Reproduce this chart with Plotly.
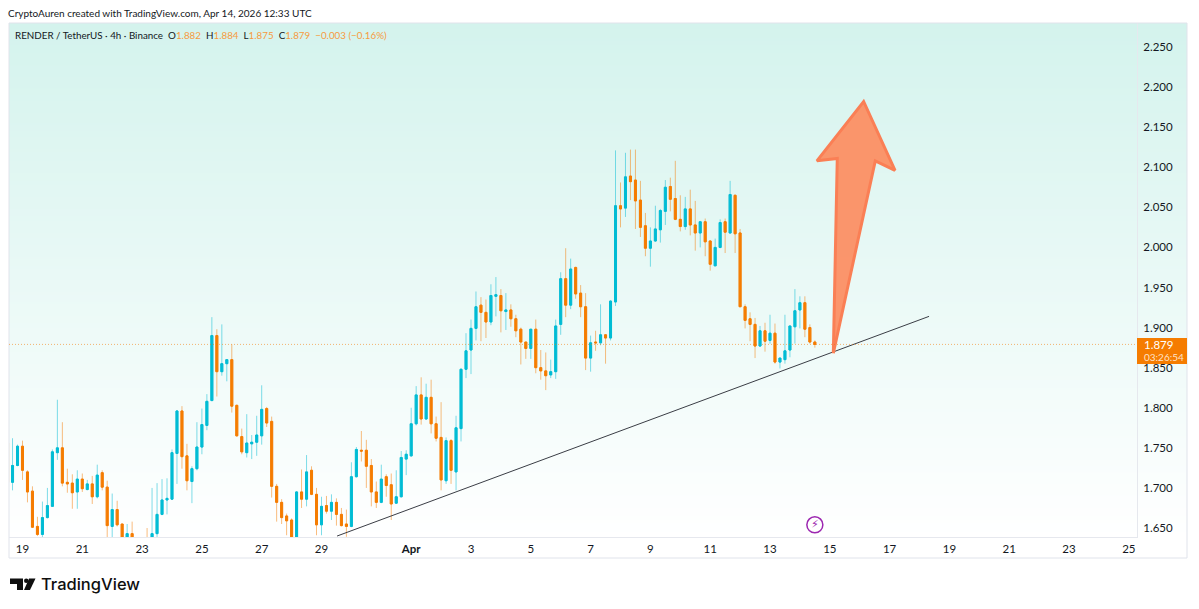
import pandas as pd
import plotly.graph_objects as go

# RENDER / USDT 4h candles
opens = [1.756,1.707,1.728,1.752,1.720,1.696,1.652,1.642,1.663,1.677,
         1.744,1.750,1.707,1.706,1.695,1.711,1.698,1.705,1.689,1.719,
         1.701,1.652,1.673,1.655,1.630,1.643,1.632,1.620,1.628,1.636,
         1.643,1.667,1.685,1.686,1.743,1.796,1.740,1.708,1.724,1.751,
         1.778,1.809,1.890,1.845,1.855,1.860,1.803,1.764,1.744,
         1.755,1.757,1.765,1.799,1.783,1.702,1.682,1.665,1.660,1.630,
         1.695,1.686,1.722,1.692,1.654,1.678,1.671,1.682,1.667,1.655,
         1.652,1.714,1.747,1.747,1.728,1.695,1.682,1.714,1.704,1.681,
         1.689,1.736,1.740,1.780,1.816,1.786,1.813,1.780,1.763,1.709,
         1.759,1.720,1.774,
         1.848,1.872,1.899,1.928,1.919,1.907,1.939,1.940,1.920,1.922,
         1.911,1.898,1.882,1.874,1.898,1.850,1.846,1.841,1.845,1.904,
         1.961,1.928,1.975,1.943,1.926,1.862,1.882,1.881,1.891,1.887,
         1.932,2.052,2.049,2.089,2.084,2.059,2.027,1.999,2.008,2.022,
         2.045,2.076,2.061,2.035,2.026,2.048,2.028,2.018,2.032,2.008,
         1.977,2.000,2.032,2.018,2.065,2.018,1.926,1.911,
         1.904,1.877,1.896,1.884,1.893,1.857,1.860,1.872,1.901,1.922,1.931,1.900,1.882]
highs = [1.776,1.762,1.754,1.759,1.722,1.702,1.664,1.683,1.700,1.748,
         1.810,1.782,1.724,1.717,1.722,1.718,1.710,1.715,1.729,1.722,
         1.709,1.693,1.684,1.655,1.655,1.658,1.636,1.637,1.650,1.700,
         1.706,1.711,1.712,1.748,1.797,1.802,1.755,1.727,1.782,1.799,
         1.817,1.913,1.898,1.904,1.860,1.879,1.804,1.774,1.792,
         1.766,1.790,1.828,1.801,1.789,1.705,1.686,1.668,1.662,1.696,
         1.723,1.741,1.727,1.700,1.689,1.690,1.692,1.687,1.675,1.673,
         1.732,1.751,1.771,1.760,1.736,1.708,1.729,1.717,1.718,1.722,
         1.746,1.747,1.800,1.827,1.838,1.830,1.835,1.789,1.807,1.763,
         1.761,1.790,1.849,
         1.893,1.910,1.945,1.938,1.935,1.954,1.963,1.948,1.943,1.929,
         1.916,1.900,1.882,1.898,1.910,1.872,1.869,1.860,1.910,1.969,
         1.999,1.986,1.976,1.953,1.943,1.890,1.896,1.929,1.892,1.934,
         2.121,2.081,2.118,2.122,2.122,2.083,2.043,2.025,2.052,2.048,
         2.084,2.087,2.108,2.065,2.063,2.072,2.058,2.033,2.036,2.009,
         2.011,2.035,2.036,2.083,2.066,2.023,1.929,1.919,
         1.912,1.902,1.906,1.916,1.905,1.862,1.916,1.902,1.948,1.939,1.939,1.904,1.884]
lows = [1.705,1.697,1.727,1.710,1.682,1.650,1.640,1.635,1.662,1.677,
        1.735,1.702,1.694,1.674,1.674,1.695,1.697,1.680,1.687,1.697,
        1.637,1.637,1.652,1.625,1.622,1.625,1.618,1.612,1.615,1.630,
        1.638,1.666,1.667,1.685,1.705,1.724,1.697,1.681,1.722,1.742,
        1.772,1.808,1.814,1.840,1.833,1.794,1.764,1.742,1.738,
        1.736,1.740,1.754,1.776,1.688,1.658,1.655,1.641,1.625,1.625,
        1.675,1.677,1.691,1.641,1.641,1.668,1.660,1.653,1.652,1.639,
        1.651,1.713,1.733,1.700,1.677,1.675,1.681,1.689,1.660,1.680,
        1.688,1.716,1.739,1.778,1.779,1.785,1.768,1.758,1.697,1.705,
        1.705,1.697,1.758,
        1.837,1.842,1.884,1.883,1.887,1.903,1.914,1.894,1.897,1.901,
        1.888,1.854,1.861,1.861,1.843,1.835,1.822,1.837,1.836,1.891,
        1.913,1.923,1.936,1.913,1.847,1.845,1.871,1.878,1.855,1.884,
        1.927,2.025,2.038,2.059,2.023,2.013,1.989,1.976,2.007,2.006,
        2.028,2.045,2.034,2.020,2.022,2.015,1.996,2.000,1.989,1.971,
        1.977,1.999,1.993,2.017,1.993,1.926,1.899,1.883,
        1.862,1.876,1.870,1.880,1.855,1.849,1.855,1.863,1.880,1.899,1.888,1.880,1.875]
closes = [1.707,1.728,1.752,1.722,1.695,1.651,1.642,1.663,1.678,1.745,
          1.750,1.706,1.705,1.694,1.711,1.699,1.705,1.689,1.716,1.701,
          1.653,1.673,1.654,1.630,1.643,1.632,1.620,1.625,1.622,1.643,
          1.667,1.685,1.687,1.744,1.796,1.739,1.709,1.724,1.751,1.779,
          1.808,1.890,1.845,1.855,1.860,1.802,1.765,1.745,1.756,
          1.757,1.766,1.798,1.781,1.702,1.682,1.663,1.659,1.630,1.695,
          1.686,1.720,1.692,1.654,1.677,1.671,1.682,1.667,1.653,1.652,
          1.714,1.748,1.746,1.727,1.695,1.682,1.711,1.703,1.680,1.689,
          1.738,1.742,1.780,1.816,1.786,1.813,1.780,1.762,1.710,1.759,
          1.722,1.775,1.848,
          1.871,1.899,1.926,1.919,1.907,1.940,1.941,1.921,1.922,1.911,
          1.896,1.882,1.874,1.898,1.850,1.846,1.840,1.845,1.902,1.961,
          1.928,1.973,1.942,1.926,1.862,1.881,1.881,1.891,1.887,1.933,
          2.052,2.048,2.088,2.082,2.058,2.025,1.999,2.008,2.023,2.046,
          2.075,2.060,2.035,2.026,2.048,2.028,2.018,2.032,2.007,1.979,
          2.000,2.031,2.019,2.066,2.017,1.926,1.909,1.904,
          1.877,1.896,1.883,1.893,1.857,1.862,1.871,1.902,1.921,1.931,1.898,1.882,1.879]
assert len(opens) == len(highs) == len(lows) == len(closes) == 163

times = pd.date_range("2026-03-18 12:00", periods=len(opens), freq="4h")

last_price = 1.879

# drawings on the chart
trend_x = ["2026-03-29 12:30", "2026-04-18 07:40"]
trend_y = [1.640, 1.914]
arrow_x = ["2026-04-15 02:50", "2026-04-15 06:00", "2026-04-14 13:40", "2026-04-16 03:10",
           "2026-04-17 04:20", "2026-04-16 12:30", "2026-04-15 02:50"]
arrow_y = [1.868, 2.111, 2.108, 2.182, 2.096, 2.108, 1.868]

x_tick_dates = ["2026-03-19", "2026-03-21", "2026-03-23", "2026-03-25", "2026-03-27", "2026-03-29",
                "2026-04-01", "2026-04-03", "2026-04-05", "2026-04-07", "2026-04-09", "2026-04-11",
                "2026-04-13", "2026-04-15", "2026-04-17", "2026-04-19", "2026-04-21", "2026-04-23",
                "2026-04-25"]
x_tick_text = ["19", "21", "23", "25", "27", "29", "<b>Apr</b>", "3", "5", "7", "9", "11",
               "13", "15", "17", "19", "21", "23", "25"]
y_ticks = [1.65, 1.70, 1.75, 1.80, 1.85, 1.90, 1.95, 2.00, 2.05, 2.10, 2.15, 2.20, 2.25]

UP = "#00BCD4"
DOWN = "#F57C00"
UP_WICK = "rgba(0,188,212,0.5)"
DOWN_WICK = "rgba(245,124,0,0.5)"
TEXT = "#131722"
FONT = "Lato"

# frame in pixels of the 1199x609 page
LEFT, RIGHT, TOP, BOTTOM = 9, 1187, 23, 558
AXIS_X, AXIS_Y = 1137, 537


def px(x):
    return (x - LEFT) / (RIGHT - LEFT)


def py(y):
    return (BOTTOM - y) / (BOTTOM - TOP)


fig = go.Figure()

# background gradient on its own axes, candles sit on top in x2/y2
fig.add_trace(go.Heatmap(x=[0, 1], y=[0, 1], z=[[0, 0], [1, 1]], zsmooth="best", showscale=False,
                         zmin=0, zmax=1, colorscale=[[0, "#ffffff"], [1, "#d4f3ed"]],
                         hoverinfo="skip", xaxis="x", yaxis="y"))

# wicks first, lighter, then the solid bodies with no wick
fig.add_trace(go.Candlestick(x=times, open=opens, high=highs, low=lows, close=closes,
                             increasing=dict(line=dict(color=UP_WICK, width=1), fillcolor="rgba(0,0,0,0)"),
                             decreasing=dict(line=dict(color=DOWN_WICK, width=1), fillcolor="rgba(0,0,0,0)"),
                             whiskerwidth=0, xaxis="x2", yaxis="y2", showlegend=False))
fig.add_trace(go.Candlestick(x=times, open=opens, close=closes,
                             high=[max(o, c) for o, c in zip(opens, closes)],
                             low=[min(o, c) for o, c in zip(opens, closes)],
                             increasing=dict(line=dict(color=UP, width=1), fillcolor=UP),
                             decreasing=dict(line=dict(color=DOWN, width=1), fillcolor=DOWN),
                             whiskerwidth=0, xaxis="x2", yaxis="y2", showlegend=False))

fig.add_trace(go.Scatter(x=trend_x, y=trend_y, mode="lines", line=dict(color="#3a3d45", width=1),
                         xaxis="x2", yaxis="y2", showlegend=False, hoverinfo="skip"))
fig.add_trace(go.Scatter(x=arrow_x, y=arrow_y, mode="lines", fill="toself",
                         fillcolor="rgba(252,140,95,0.92)", line=dict(color="#FA7F55", width=3),
                         xaxis="x2", yaxis="y2", showlegend=False, hoverinfo="skip"))

# lightning marker
fig.add_trace(go.Scatter(x=["2026-04-14 12:00"], y=[1.654], mode="markers",
                         marker=dict(symbol="circle", size=16, color="white",
                                     line=dict(color="#9C27B0", width=1.5)),
                         xaxis="x2", yaxis="y2", showlegend=False, hoverinfo="skip"))

x_domain_end = (AXIS_X - LEFT) / (RIGHT - LEFT)
y_domain_start = (BOTTOM - AXIS_Y) / (BOTTOM - TOP)

fig.update_layout(
    width=1199, height=609,
    margin=dict(l=LEFT, r=1199 - RIGHT, t=TOP, b=609 - BOTTOM, pad=0),
    paper_bgcolor="white", plot_bgcolor="rgba(0,0,0,0)",
    showlegend=False, boxgap=0.42,
    font=dict(family=FONT, color=TEXT, size=12),
    xaxis=dict(domain=[0, 1], range=[0, 1], visible=False, fixedrange=True),
    yaxis=dict(domain=[y_domain_start, 1], range=[0, 1], visible=False, fixedrange=True),
    xaxis2=dict(domain=[0, x_domain_end], anchor="y2",
                range=["2026-03-18 13:10", "2026-04-25 06:35"], rangeslider=dict(visible=False),
                tickmode="array", tickvals=x_tick_dates, ticktext=x_tick_text,
                showgrid=False, zeroline=False, showline=True, linecolor="#e6e8ee", linewidth=1,
                ticks="", tickfont=dict(size=11.5, color=TEXT), ticklabelstandoff=1),
    yaxis2=dict(domain=[y_domain_start, 1], anchor="x2", side="right",
                range=[1.6388, 2.2799], tickmode="array", tickvals=y_ticks, tickformat=".3f",
                showgrid=False, zeroline=False, showline=True, linecolor="#e6e8ee", linewidth=1,
                ticks="", tickfont=dict(size=11.5, color=TEXT), ticklabelstandoff=3),
)

# outer frame and last price line
fig.add_shape(type="rect", xref="paper", yref="paper", x0=0, x1=1, y0=0, y1=1,
              line=dict(color="#e0e3eb", width=1), layer="above")
fig.add_shape(type="line", xref="x2 domain", yref="y2", x0=0, x1=1, y0=last_price, y1=last_price,
              line=dict(color="rgba(245,124,0,0.55)", width=1, dash="1px,2px"), layer="above")

# last price tag on the scale
fig.add_shape(type="rect", xref="paper", yref="paper", x0=px(AXIS_X), x1=px(RIGHT), y0=py(364), y1=py(338),
              fillcolor=DOWN, line=dict(width=0), layer="above")
fig.add_annotation(xref="paper", yref="paper", x=px(1142), y=py(344.5), text="1.879", showarrow=False,
                   xanchor="left", yanchor="middle", font=dict(size=11.5, color="white"))
fig.add_annotation(xref="paper", yref="paper", x=px(1142), y=py(357), text="03:26:54", showarrow=False,
                   xanchor="left", yanchor="middle", font=dict(size=10, color="#ffe3c8"))

fig.add_annotation(xref="x2", yref="y2", x="2026-04-14 12:00", y=1.654, text="⚡", showarrow=False,
                   font=dict(size=11, color="#9C27B0", family="DejaVu Sans"))

# header lines
fig.add_annotation(xref="paper", yref="paper", x=px(6), y=py(13), text="CryptoAuren created with TradingView.com, Apr 14, 2026 12:33 UTC",
                   showarrow=False, xanchor="left", yanchor="middle", font=dict(size=10, color=TEXT))
o = '<span style="color:#F79A3E">'
fig.add_annotation(xref="paper", yref="paper", x=px(13), y=py(35),
                   text=("RENDER / TetherUS · 4h · Binance  O" + o + "1.882</span>  H" + o + "1.884</span>  L" + o + "1.875</span>  C" + o + "1.879</span>  " + o + "−0.003 (−0.16%)</span>"),
                   showarrow=False, xanchor="left", yanchor="middle", font=dict(size=9.8, color=TEXT))

# TradingView logo
logo_bar = [(10, 578.5), (23, 578.5), (23, 590), (17, 590), (17, 584), (10, 584)]
logo_slash = [(29, 578.5), (35.5, 578.5), (30, 590), (24, 590)]
for pts in (logo_bar, logo_slash):
    path = "M " + " L ".join(f"{px(a):.5f},{py(b):.5f}" for a, b in pts) + " Z"
    fig.add_shape(type="path", xref="paper", yref="paper", path=path, fillcolor="#0f0f0f", line=dict(width=0))
fig.add_shape(type="circle", xref="paper", yref="paper", x0=px(24), x1=px(28.5), y0=py(583), y1=py(578.5),
              fillcolor="#0f0f0f", line=dict(width=0))
fig.add_annotation(xref="paper", yref="paper", x=px(39), y=py(584), text="TradingView", showarrow=False,
                   xanchor="left", yanchor="middle", font=dict(size=16.5, color="#0f0f0f", family="Inter", weight=500))

# page margin off so the figure starts at the window corner
fig.write_html("out.html", config=dict(displayModeBar=False), post_script="document.body.style.margin='0';")
